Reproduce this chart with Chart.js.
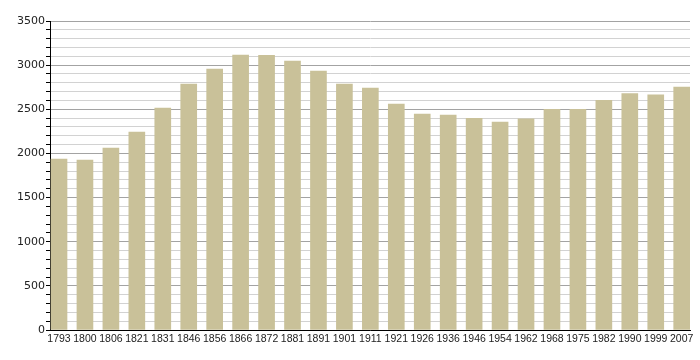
<!DOCTYPE html>
<html>
<head>
<meta charset="utf-8">
<script src="https://cdn.jsdelivr.net/npm/chart.js@4/dist/chart.umd.min.js"></script>
<style>
  html, body { margin: 0; padding: 0; background: #fff; }
  #wrap { width: 700px; height: 360px; }
</style>
</head>
<body>
<div id="wrap"><canvas id="popChart"></canvas></div>
<script>
const years = ['1793', '1800', '1806', '1821', '1831', '1846', '1856', '1866', '1872', '1881',
    '1891', '1901', '1911', '1921', '1926', '1936', '1946', '1954', '1962', '1968',
    '1975', '1982', '1990', '1999', '2007'];
const population = [1937, 1925, 2061, 2242, 2514, 2786, 2956, 3114, 3112, 3046,
    2933, 2786, 2741, 2560, 2446, 2435, 2397, 2355, 2392, 2500,
    2500, 2602, 2677, 2665, 2752];
const yTicks = [0, 500, 1000, 1500, 2000, 2500, 3000, 3500];

let ctx = document.getElementById('popChart');

new Chart(ctx, {
    type: 'bar',
    data: {
        datasets: [{
            label: 'Population',
            data: population.map((v, i) => ({ x: i, y: v })),
            backgroundColor: '#c9c199',
            borderWidth: 0,
            barThickness: 16
        }]
    },
    options: {
        responsive: true,
        maintainAspectRatio: false,
        animation: false,
        layout: {
            padding: { left: 0, top: 21, right: 10, bottom: 0 }
        },
        plugins: {
            legend: { display: false },
            tooltip: { enabled: false }
        },
        scales: {
            x: {
                type: 'linear',
                offset: false,
                min: -0.347,
                max: 24.32,
                afterBuildTicks: axis => {
                    axis.ticks = years.map((_, i) => ({ value: i }));
                },
                afterFit: axis => { axis.height = 30; },
                grid: { display: false, drawTicks: false, tickLength: 0 },
                border: { display: true, color: '#000', width: 1 },
                ticks: {
                    autoSkip: false,
                    maxRotation: 0,
                    padding: 3,
                    color: '#222',
                    font: { family: '"Liberation Sans", Arial, sans-serif', size: 10.5 },
                    callback: v => years[v]
                }
            },
            y: {
                min: 0,
                max: 3500,
                afterFit: axis => { axis.width = 50; },
                grid: {
                    color: c => (c.tick && c.tick.value % 500 === 0) ? '#a3a3a3' : '#d2d2d2',
                    tickColor: '#000',
                    tickLength: 4,
                    lineWidth: 1
                },
                border: { display: true, color: '#000', width: 1 },
                ticks: {
                    stepSize: 100,
                    autoSkip: false,
                    padding: 1,
                    color: '#222',
                    font: { family: '"DejaVu Sans", sans-serif', size: 11 },
                    callback: v => yTicks.includes(v) ? String(v) : ''
                }
            }
        }
    }
});
</script>
</body>
</html>
